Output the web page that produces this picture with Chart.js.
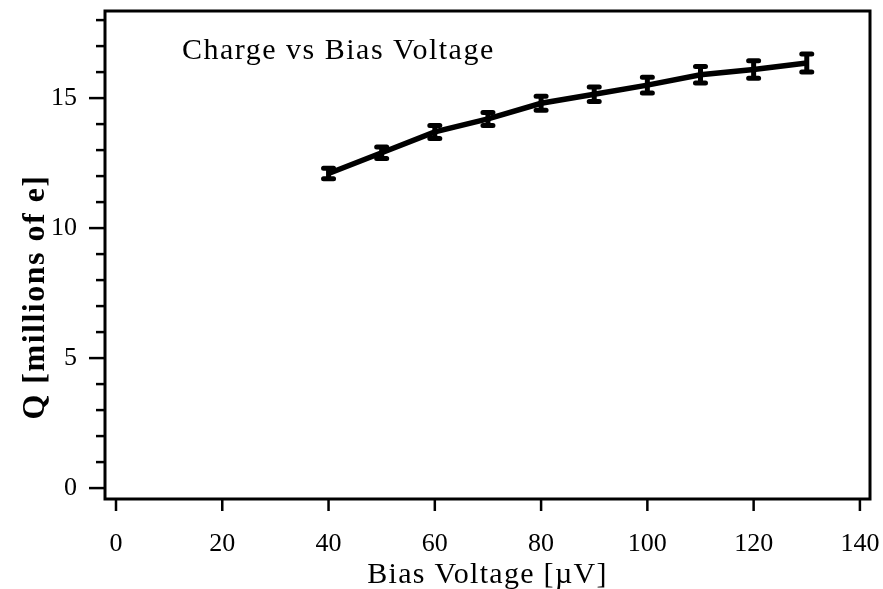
<!DOCTYPE html>
<html>
<head>
<meta charset="utf-8">
<script src="https://cdn.jsdelivr.net/npm/chart.js@4"></script>
<style>
  body { margin: 0; background: #fff; }
  #wrap { width: 883px; height: 589px; }
</style>
</head>
<body>
<div id="wrap"><canvas id="grafico"></canvas></div>
<script>
// datos
const voltajes = [40, 50, 60, 70, 80, 90, 100, 110, 120, 130];
const carga = [12.1, 12.9, 13.7, 14.2, 14.8, 15.15, 15.5, 15.9, 16.1, 16.35];
const errores = [0.2, 0.22, 0.25, 0.25, 0.27, 0.28, 0.3, 0.32, 0.34, 0.35];
const ticksX = [0, 20, 40, 60, 80, 100, 120, 140];
const ticksY = [0, 5, 10, 15];

const serif = "'Liberation Serif', 'DejaVu Serif', serif";

const plugin_marco_y_errores = {
  id: "marcoErrores",
  afterDatasetsDraw: (chart) => {
    const ctx = chart.ctx;
    const x = chart.scales.x;
    const y = chart.scales.y;
    ctx.save();
    ctx.strokeStyle = "#000";
    voltajes.forEach((v, i) => {
      const px = x.getPixelForValue(v);
      const top = y.getPixelForValue(carga[i] + errores[i]);
      const bot = y.getPixelForValue(carga[i] - errores[i]);
      ctx.lineWidth = 5;
      ctx.beginPath();
      ctx.moveTo(px, top);
      ctx.lineTo(px, bot);
      ctx.stroke();
      // tapas
      ctx.lineWidth = 5;
      ctx.lineCap = "round";
      ctx.beginPath();
      ctx.moveTo(px - 5, top);
      ctx.lineTo(px + 5, top);
      ctx.moveTo(px - 5, bot);
      ctx.lineTo(px + 5, bot);
      ctx.stroke();
      ctx.lineCap = "butt";
    });
    ctx.restore();
  },
  afterDraw: (chart) => {
    const ctx = chart.ctx;
    const a = chart.chartArea;
    const x = chart.scales.x;
    const y = chart.scales.y;
    ctx.save();
    ctx.strokeStyle = "#000";
    ctx.lineWidth = 3;
    ctx.strokeRect(a.left, a.top, a.right - a.left, a.bottom - a.top);

    // marcas y etiquetas del eje x
    ctx.lineWidth = 2.5;
    ctx.fillStyle = "#000";
    ctx.font = "26px " + serif;
    ctx.textAlign = "center";
    ctx.textBaseline = "middle";
    ticksX.forEach((t) => {
      const px = x.getPixelForValue(t);
      ctx.beginPath();
      ctx.moveTo(px, a.bottom);
      ctx.lineTo(px, a.bottom + 12);
      ctx.stroke();
      ctx.fillText(String(t), px, a.bottom + 45);
    });
    // marcas del eje y, menores cada 1
    for (let v = 0; v <= 18; v++) {
      const py = y.getPixelForValue(v);
      const largo = v % 5 === 0 ? 16 : 9;
      ctx.beginPath();
      ctx.moveTo(a.left, py);
      ctx.lineTo(a.left - largo, py);
      ctx.stroke();
    }
    ctx.textAlign = "right";
    ticksY.forEach((t) => {
      ctx.fillText(String(t), 77, y.getPixelForValue(t));
    });

    // titulos
    ctx.textAlign = "left";
    ctx.textBaseline = "alphabetic";
    ctx.font = "30px " + serif;
    ctx.letterSpacing = "1.5px";
    ctx.fillText("Charge vs Bias Voltage", 182, 59);

    ctx.textAlign = "center";
    ctx.font = "30px " + serif;
    ctx.letterSpacing = "1.3px";
    ctx.fillText("Bias Voltage [\u00b5V]", (a.left + a.right) / 2, 583);

    ctx.save();
    ctx.translate(44, 297);
    ctx.rotate(-Math.PI / 2);
    ctx.font = "bold 32px " + serif;
    ctx.letterSpacing = "1.5px";
    ctx.fillText("Q [millions of e]", 0, 0);
    ctx.restore();
    ctx.restore();
  },
};

const ctx1 = document.getElementById("grafico").getContext("2d");

new Chart(ctx1, {
  type: "line",
  data: {
    datasets: [
      {
        label: "Q",
        data: voltajes.map((v, i) => ({ x: v, y: carga[i] })),
        borderColor: "#000",
        borderWidth: 5.5,
        pointRadius: 0,
        tension: 0,
      },
    ],
  },
  options: {
    responsive: true,
    maintainAspectRatio: false,
    animation: false,
    layout: {
      padding: { top: 11, right: 13, left: 0, bottom: 0 },
    },
    plugins: {
      legend: { display: false },
      tooltip: { enabled: false },
    },
    scales: {
      x: {
        type: "linear",
        min: -2.07,
        max: 141.9,
        afterFit: (scale) => {
          scale.height = 90;
        },
        grid: { display: false, drawTicks: false },
        border: { display: false },
        ticks: { display: false },
      },
      y: {
        type: "linear",
        min: -0.42,
        max: 18.35,
        afterFit: (scale) => {
          scale.width = 105;
        },
        grid: { display: false, drawTicks: false },
        border: { display: false },
        ticks: { display: false },
      },
    },
  },
  plugins: [plugin_marco_y_errores],
});
</script>
</body>
</html>
